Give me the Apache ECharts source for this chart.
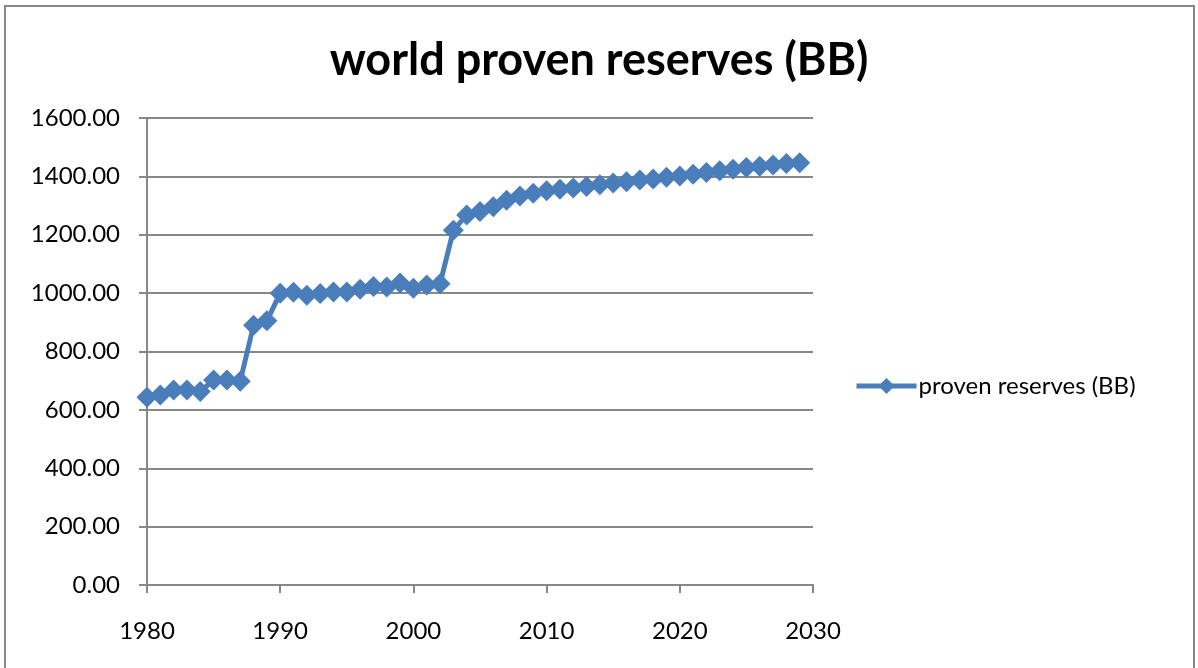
<!DOCTYPE html>
<html>
<head>
<meta charset="utf-8">
<script src="https://cdn.jsdelivr.net/npm/echarts@6/dist/echarts.min.js"></script>
<style>
  html, body { margin: 0; padding: 0; background: #fff; }
  #frame { position: absolute; left: 4px; top: 5px; width: 1191px; height: 670px;
           border: 2px solid #878787; border-bottom: none; box-sizing: border-box; }
  #chart { position: absolute; left: 0; top: 0; width: 1198px; height: 668px; }
</style>
</head>
<body>
<div id="frame"></div>
<div id="chart"></div>
<script>
// Years and world proven oil reserves, billions of barrels
const years = [
  1980, 1981, 1982, 1983, 1984, 1985, 1986, 1987, 1988, 1989,
  1990, 1991, 1992, 1993, 1994, 1995, 1996, 1997, 1998, 1999,
  2000, 2001, 2002, 2003, 2004, 2005, 2006, 2007, 2008, 2009,
  2010, 2011, 2012, 2013, 2014, 2015, 2016, 2017, 2018, 2019,
  2020, 2021, 2022, 2023, 2024, 2025, 2026, 2027, 2028, 2029
];
const reserves = [
  643, 651, 668, 668, 663, 702, 702, 698, 890, 905,
  1000, 1003, 993, 999, 1004, 1004, 1013, 1023, 1021, 1035,
  1017, 1028, 1032, 1215, 1268, 1280, 1296, 1318, 1333, 1342,
  1351, 1356, 1360, 1365, 1371, 1377, 1382, 1388, 1391, 1397,
  1401, 1407, 1413, 1419, 1424, 1430, 1435, 1439, 1444, 1447
];
const seriesName = 'proven reserves (BB)';
const titleText = 'world proven reserves (BB)';

const font = 'Lato, Carlito, "Open Sans", sans-serif';
const gridColor = '#878787';
const lineColor = '#4a7ebb';

const chart = echarts.init(document.getElementById('chart'), null, { renderer: 'canvas' });
chart.setOption({
  backgroundColor: 'transparent',
  animation: false,
  title: {
    text: titleText,
    left: 'center',
    top: 33,
    textStyle: { fontFamily: font, fontSize: 45, fontWeight: 'bold', color: '#000' }
  },
  legend: {
    data: [{ name: seriesName, lineStyle: { width: 5 } }],
    left: 849,
    top: 369,
    itemWidth: 60,
    itemHeight: 20,
    itemGap: 3,
    textStyle: { fontFamily: font, fontSize: 24, color: '#000', padding: [0, 0, 0, -3] }
  },
  grid: { left: 147, right: 385, top: 118, bottom: 83, containLabel: false },
  xAxis: {
    type: 'value',
    min: 1980,
    max: 2030,
    interval: 10,
    axisLine: { show: true, onZero: false, lineStyle: { color: gridColor, width: 2 } },
    axisTick: { show: true, length: 8, lineStyle: { color: gridColor, width: 2 } },
    splitLine: { show: false },
    axisLabel: {
      fontFamily: font, fontSize: 24, color: '#000', margin: 34,
      formatter: v => String(v)
    }
  },
  yAxis: {
    type: 'value',
    min: 0,
    max: 1600,
    interval: 200,
    axisLine: { show: true, lineStyle: { color: gridColor, width: 2 } },
    axisTick: { show: true, length: 8, lineStyle: { color: gridColor, width: 2 } },
    splitLine: { show: true, lineStyle: { color: gridColor, width: 2 } },
    axisLabel: {
      fontFamily: font, fontSize: 24, color: '#000', margin: 27,
      formatter: v => v.toFixed(2)
    }
  },
  series: [{
    name: seriesName,
    type: 'line',
    data: years.map((y, i) => [y, reserves[i]]),
    lineStyle: { color: lineColor, width: 5 },
    itemStyle: { color: lineColor },
    symbol: 'diamond',
    symbolSize: 21,
    showAllSymbol: true,
    z: 5
  }]
});
</script>
</body>
</html>
